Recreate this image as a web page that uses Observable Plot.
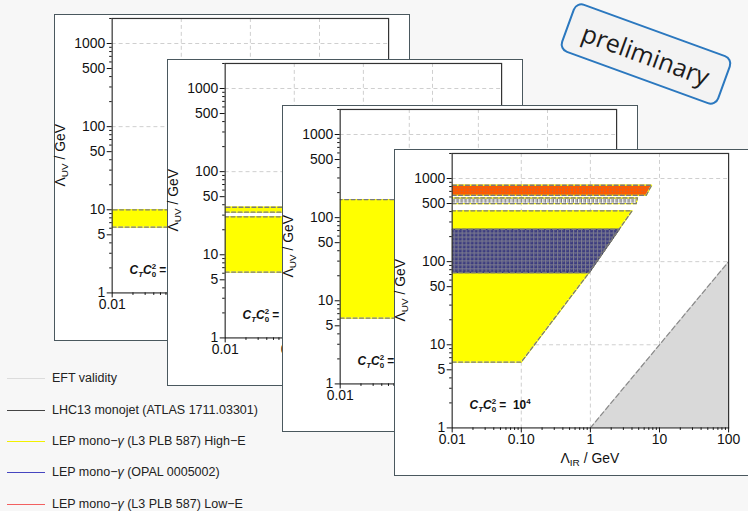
<!DOCTYPE html>
<html><head><meta charset="utf-8">
<script src="https://cdn.jsdelivr.net/npm/d3@7"></script>
<script src="https://cdn.jsdelivr.net/npm/@observablehq/plot@0.6"></script>
<style>
html,body{margin:0;padding:0;width:748px;height:511px;overflow:hidden;background:#f7f7f7;font-family:"Liberation Sans",Arial,sans-serif;}
.card{position:absolute;width:356px;height:327px;background:#fff;border:1px solid #4a585e;box-sizing:border-box;}
.card svg{position:absolute;left:-1px;top:-1px;}
.legend{position:absolute;left:0;top:0;}
.lrow{position:absolute;left:7px;height:16px;display:flex;align-items:center;font-size:12.5px;color:#222;white-space:nowrap;}
.lrow .sw{width:38px;height:0;border-top:1.8px solid #000;margin-right:7px;}
.stamp{position:absolute;left:562px;top:28px;width:168px;height:52px;box-sizing:border-box;border:2.5px solid #2b78bf;border-radius:9px;background:#f3f3f3;transform:rotate(20deg);display:flex;align-items:center;justify-content:center;font-family:"Open Sans",sans-serif;font-size:25px;color:#1c1c1c;}
</style></head><body>
<svg width="0" height="0" style="position:absolute">
<defs>
<pattern id="meshBlue" width="4" height="4" patternUnits="userSpaceOnUse">
<rect width="4" height="4" fill="#3c3c7e"/>
<path d="M0 0.5H4M0.5 0V4" stroke="#858590" stroke-width="0.9"/>
<path d="M0 4L4 0" stroke="#6c6c94" stroke-width="0.5"/>
</pattern>
<pattern id="meshOrange" width="3" height="3" patternUnits="userSpaceOnUse">
<rect width="3" height="3" fill="#ff5a00"/>
<rect width="1" height="1" fill="#a07060"/>
</pattern>
<pattern id="comb" width="4" height="6" patternUnits="userSpaceOnUse">
<rect width="4" height="6" fill="#fff"/>
<path d="M0.5 6V1.5H3V6" fill="none" stroke="#7a7a7a" stroke-width="1"/>
</pattern>
</defs>
</svg>
<div id="stage"></div>
<div class="stamp">preliminary</div>
<script>
// ---- data ----
const xDomain = [0.01, 100];
const yDomain = [1, 2000];
const xTicks = [0.01, 0.1, 1, 10, 100];
const xTickLabels = ["0.01", "0.10", "1", "10", "100"];
const yTicks = [1, 5, 10, 50, 100, 500, 1000];
const yTickLabels = ["1", "5", "10", "50", "100", "500", "1000"];
const gridXValues = [0.1, 1, 10];
const gridYValues = [10, 100, 1000];
const minorMult = [2, 3, 4, 6, 7, 8, 9];
const couplingExponents = ["1", "2", "3", "4"];

// EFT validity boundary (Λ_UV = Λ_IR)
const eftBoundary = [{ir: 1, uv: 1}, {ir: 100, uv: 100}];

// Regions: rows of (Λ_UV, right-edge Λ_IR), left edge at Λ_IR = 0.01
const card1HighE = [{uv: 6.2, ir: 0.1}, {uv: 10, ir: 0.155}];
const card2HighE = [{uv: 6.2, ir: 0.1}, {uv: 28.6, ir: 0.4}];
const card2HighEb = [{uv: 32.5, ir: 0.45}, {uv: 37.3, ir: 0.5}];
const card3HighE = [{uv: 6.2, ir: 0.1}, {uv: 165, ir: 2.0}];
const card4HighE = [{uv: 6.2, ir: 0.1}, {uv: 74, ir: 0.96}, {uv: 245, ir: 2.6}, {uv: 408, ir: 4.0}];
const card4Opal = [{uv: 74, ir: 0.96}, {uv: 245, ir: 2.6}];
const card4Monojet = [{uv: 500, ir: 4.6}, {uv: 585, ir: 4.8}];
const card4LowE = [{uv: 625, ir: 6.4}, {uv: 830, ir: 7.7}];

const legendLabels = ["EFT validity", "LHC13 monojet (ATLAS 1711.03301)", "LEP mono−<i>γ</i> (L3 PLB 587) High−E", "LEP mono−<i>γ</i> (OPAL 0005002)", "LEP mono−<i>γ</i> (L3 PLB 587) Low−E"];
const legendColors = ["#dcdcdc", "#444444", "#f2f000", "#4646c0", "#f26060"];

const cardPositions = [[54, 14], [167, 59], [282, 105], [394, 149]];
const legendRowY = [378, 410, 441, 472, 504];

// ---- helpers ----
const YELLOW = "#ffff00";
function outline(rows) {
  return [{ir: xDomain[0], uv: rows[0].uv}, ...rows, {ir: xDomain[0], uv: rows[rows.length - 1].uv}];
}
function region(rows, fill, edge) {
  return [
    Plot.areaX(rows, {y: "uv", x1: xDomain[0], x2: "ir", fill, clip: true}),
    Plot.line(outline(rows), {x: "ir", y: "uv", stroke: edge || YELLOW, strokeWidth: 1.3, clip: true}),
    Plot.line(outline(rows), {x: "ir", y: "uv", stroke: "#7a7a7a", strokeWidth: 1.3, strokeDasharray: "4,2.5", clip: true})
  ];
}
const minorY = [1, 10, 100, 1000].flatMap(d => minorMult.map(m => d * m)).filter(v => v <= yDomain[1]);
const minorX = [0.01, 0.1, 1, 10].flatMap(d => [...minorMult, 5].map(m => +(d * m).toPrecision(3)));

function makeCard(idx, regionMarks) {
  const plot = Plot.plot({
    width: 356, height: 327,
    marginLeft: 58, marginRight: 20, marginTop: 4, marginBottom: 47,
    style: {fontFamily: "'Liberation Sans', Arial, sans-serif", fontSize: "14px", color: "#111", background: "transparent", overflow: "visible"},
    x: {type: "log", domain: xDomain},
    y: {type: "log", domain: yDomain},
    marks: [
      Plot.gridX(gridXValues, {stroke: "#cfcfcf", strokeOpacity: 1, strokeDasharray: "4,3"}),
      Plot.gridY(gridYValues, {stroke: "#cfcfcf", strokeOpacity: 1, strokeDasharray: "4,3"}),
      Plot.areaY(eftBoundary, {x: "ir", y1: yDomain[0], y2: "uv", fill: "#d9d9d9", clip: true}),
      Plot.line(eftBoundary, {x: "ir", y: "uv", stroke: "#8a8a8a", strokeDasharray: "5,3", strokeWidth: 1.2, clip: true}),
      ...regionMarks,
      Plot.frame({stroke: "#333", strokeWidth: 1.2}),
      Plot.axisX(xTicks, {tickSize: 5, tickPadding: 2, tickFormat: () => "", label: null}),
      Plot.text(xTicks, {x: d => d, y: yDomain[0], text: (d, i) => xTickLabels[i], lineAnchor: "top", dy: 6, fontSize: 14, fill: "#111"}),
      Plot.axisX(minorX, {tickSize: 2.5, tickFormat: () => "", label: null}),
      Plot.axisY(yTicks, {tickSize: 5, tickFormat: () => "", label: null}),
      Plot.text(yTicks, {x: xDomain[0], y: d => d, text: (d, i) => yTickLabels[i], textAnchor: "end", dx: -7, fontSize: 14, fill: "#111"}),
      Plot.axisY(minorY, {tickSize: 2.5, tickFormat: () => "", label: null})
    ]
  });
  const svg = d3.select(plot);
  const ff = "'Liberation Sans', Arial, sans-serif";
  // y label
  const yl = svg.append("text").attr("transform", "translate(11,142) rotate(-90)")
    .attr("text-anchor", "middle").attr("font-size", 14).attr("font-family", ff).attr("fill", "#111");
  yl.append("tspan").text("Λ");
  yl.append("tspan").attr("font-size", 10).attr("dy", 3).text("UV");
  yl.append("tspan").attr("dy", -3).text(" / GeV");
  // x label
  const xl = svg.append("text").attr("x", 58 + 139).attr("y", 316)
    .attr("text-anchor", "middle").attr("font-size", 14).attr("font-family", ff).attr("fill", "#111");
  xl.append("tspan").text("Λ");
  xl.append("tspan").attr("font-size", 10).attr("dy", 3).text("IR");
  xl.append("tspan").attr("dy", -3).text(" / GeV");
  // coupling annotation
  const t = svg.append("text").attr("x", 76).attr("y", 261).attr("font-size", 12)
    .attr("text-anchor", "start")
    .attr("font-weight", "bold").attr("font-family", ff).attr("fill", "#111");
  t.append("tspan").attr("font-style", "italic").text("C");
  t.append("tspan").attr("font-style", "italic").attr("font-size", 8).attr("dy", 3).text("T");
  t.append("tspan").attr("font-style", "italic").attr("dy", -3).text("C");
  t.append("tspan").attr("font-size", 8).attr("dy", 3).text("0");
  t.append("tspan").attr("font-size", 8).attr("dx", -4.5).attr("dy", -8).text("2");
  t.append("tspan").attr("dy", 5).text(" =  10");
  t.append("tspan").attr("font-size", 8).attr("dy", -5).text(couplingExponents[idx]);

  const div = document.createElement("div");
  div.className = "card";
  div.style.left = cardPositions[idx][0] + "px";
  div.style.top = cardPositions[idx][1] + "px";
  div.appendChild(plot);
  document.getElementById("stage").appendChild(div);
}

// legend
const legend = document.createElement("div");
legend.className = "legend";
legendLabels.forEach((lab, i) => {
  const r = document.createElement("div");
  r.className = "lrow";
  r.style.top = (legendRowY[i] - 8) + "px";
  r.innerHTML = `<span class="sw" style="border-top-color:${legendColors[i]}"></span><span>${lab}</span>`;
  legend.appendChild(r);
});
document.getElementById("stage").appendChild(legend);

makeCard(0, [...region(card1HighE, YELLOW)]);
makeCard(1, [...region(card2HighE, YELLOW), ...region(card2HighEb, YELLOW)]);
makeCard(2, [...region(card3HighE, YELLOW)]);
makeCard(3, [
  ...region(card4HighE, YELLOW),
  ...region(card4Opal, "url(#meshBlue)", "#3a3a80"),
  ...region(card4Monojet, "url(#comb)"),
  ...region(card4LowE, "url(#meshOrange)")
]);
</script>
</body></html>
